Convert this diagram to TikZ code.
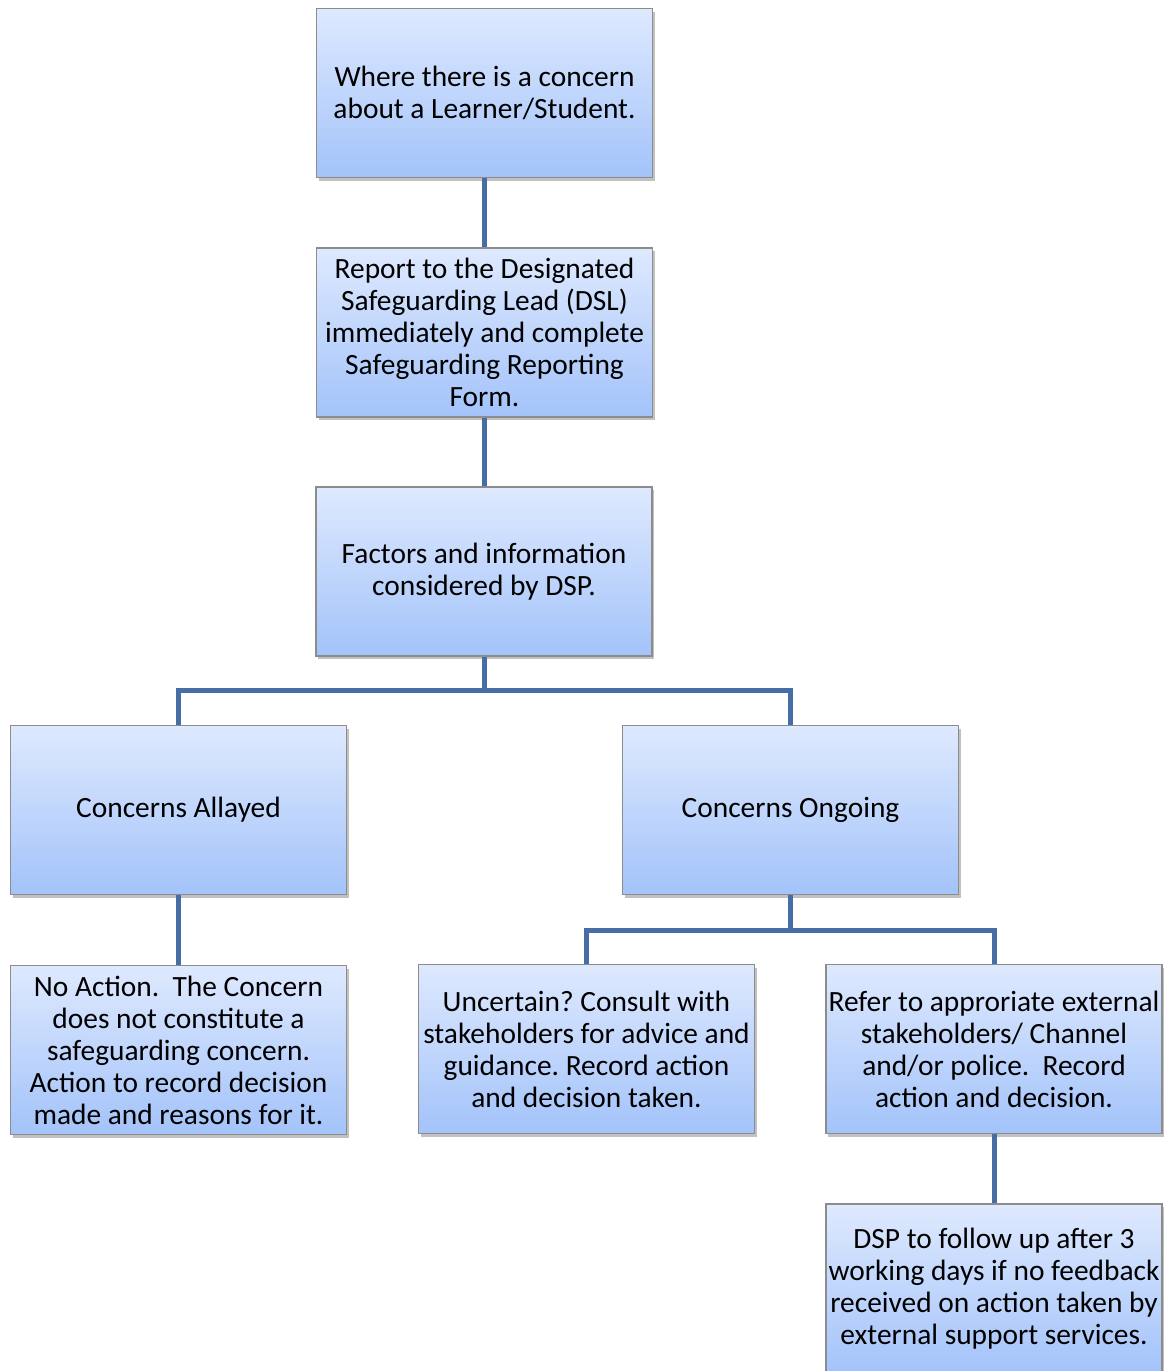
\documentclass[tikz,border=0pt]{standalone}
\usepackage{fontspec}
\setmainfont{Carlito}
\usetikzlibrary{shadows}
\definecolor{topc}{RGB}{222,233,254}
\definecolor{botc}{RGB}{163,195,250}
\definecolor{edgec}{RGB}{140,140,140}
\definecolor{linkc}{RGB}{70,110,165}
\begin{document}
\frenchspacing
\begin{tikzpicture}[x=0.5pt,y=-0.5pt,
  box/.style={draw=edgec, line width=0.6pt, top color=topc, bottom color=botc,
    minimum width=168pt, minimum height=84.5pt, inner sep=1pt, align=center,
    font=\fontsize{14.7}{16}\selectfont,
    drop shadow={shadow xshift=1pt, shadow yshift=-1.5pt, opacity=0.35, fill=black!70}},
  link/.style={draw=linkc, line width=2.5pt}]
\useasboundingbox (0,0) rectangle (1166,1371);
\node[box] (top) at (484.5,93) {Where there is a concern\\about a Learner/Student.};
\node[box] (rep) at (484.5,332.5) {Report to the Designated\\Safeguarding Lead (DSL)\\immediately and complete\\Safeguarding Reporting\\Form.};
\node[box] (fac) at (484,571.5) {Factors and information\\considered by DSP.};
\node[box] (all) at (178.5,810) {Concerns Allayed};
\node[box] (ong) at (790.5,810) {Concerns Ongoing};
\node[box] (noa) at (178.5,1050) {No Action.\ \ The Concern\\does not constitute a\\safeguarding concern.\\Action to record decision\\made and reasons for it.};
\node[box] (unc) at (586.5,1049) {Uncertain? Consult with\\stakeholders for advice and\\guidance. Record action\\and decision taken.};
\node[box] (ref) at (994,1049) {Refer to approriate external\\stakeholders/ Channel\\and/or police.\ \ Record\\action and decision.};
\node[box, minimum height=85pt] (dsp) at (994,1289) {DSP to follow up after 3\\working days if no feedback\\received on action taken by\\external support services.};
\coordinate (j1) at (484.5,690);
\coordinate (j2) at (790.5,930);
\draw[link] (top.south) -- (rep.north);
\draw[link] (rep.south) -- (fac.north -| rep.south);
\draw[link] (fac.south -| j1) -- (j1);
\draw[link] (all.north) |- (j1) -| (ong.north);
\draw[link] (all.south) -- (noa.north);
\draw[link] (ong.south) -- (j2);
\draw[link] (unc.north) |- (j2) -| (ref.north);
\draw[link] (ref.south) -- (dsp.north);
\end{tikzpicture}
\end{document}
